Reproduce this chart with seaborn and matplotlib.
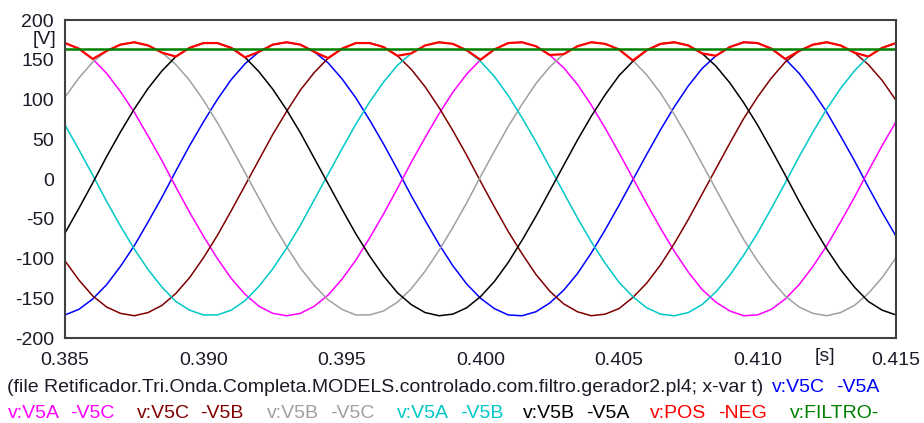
import numpy as np
import pandas as pd
import seaborn as sns
import matplotlib.pyplot as plt

# time axis: 0.385 s .. 0.415 s, one sample every 0.5 ms
t = 0.385 + np.arange(61) * 0.0005

# values [V]
v5c_v5a = [-171, -164, -151, -133, -110, -84, -54, -23, 10, 42, 72, 100, 125, 145, 160, 169,
           172, 169, 160, 146, 126, 102, 74, 44, 12, -21, -52, -82, -109, -132, -150, -163,
           -171, -172, -167, -156, -140, -119, -93, -64, -33, -1, 31, 62, 91, 117, 139, 155,
           166, 172, 171, 164, 151, 133, 110, 84, 54, 23, -10, -42, -72]
v5a_v5c = [171, 164, 151, 133, 110, 84, 54, 23, -10, -42, -72, -100, -125, -145, -160, -169,
           -172, -169, -160, -146, -126, -102, -74, -44, -12, 21, 52, 82, 109, 132, 150, 163,
           171, 172, 167, 156, 140, 119, 93, 64, 33, 1, -31, -62, -91, -117, -139, -155,
           -166, -172, -171, -164, -151, -133, -110, -84, -54, -23, 10, 42, 72]
v5c_v5b = [-103, -127, -147, -161, -169, -172, -168, -159, -144, -124, -99, -71, -40, -8, 24, 56,
           85, 112, 134, 152, 164, 171, 171, 166, 155, 138, 116, 90, 61, 30, -3, -35,
           -66, -94, -120, -141, -157, -167, -172, -170, -163, -149, -131, -108, -81, -51, -19, 13,
           45, 76, 103, 127, 147, 161, 169, 172, 168, 159, 144, 124, 99]
v5b_v5c = [103, 127, 147, 161, 169, 172, 168, 159, 144, 124, 99, 71, 40, 8, -24, -56,
           -85, -112, -134, -152, -164, -171, -171, -166, -155, -138, -116, -90, -61, -30, 3, 35,
           66, 94, 120, 141, 157, 167, 172, 170, 163, 149, 131, 108, 81, 51, 19, -13,
           -45, -76, -103, -127, -147, -161, -169, -172, -168, -159, -144, -124, -99]
v5a_v5b = [68, 37, 5, -28, -59, -88, -114, -136, -154, -165, -171, -171, -165, -153, -135, -113,
           -87, -58, -26, 6, 38, 69, 97, 122, 143, 158, 168, 172, 170, 162, 148, 129,
           105, 77, 47, 15, -17, -49, -79, -106, -130, -148, -162, -170, -172, -168, -158, -142,
           -121, -96, -68, -37, -5, 28, 59, 88, 114, 136, 154, 165, 171]
v5b_v5a = [-68, -37, -5, 28, 59, 88, 114, 136, 154, 165, 171, 171, 165, 153, 135, 113,
           87, 58, 26, -6, -38, -69, -97, -122, -143, -158, -168, -172, -170, -162, -148, -129,
           -105, -77, -47, -15, 17, 49, 79, 106, 130, 148, 162, 170, 172, 168, 158, 142,
           121, 96, 68, 37, 5, -28, -59, -88, -114, -136, -154, -165, -171]
pos_neg = [171, 164, 151, 161, 169, 172, 168, 159, 154, 165, 171, 171, 165, 153, 160, 169,
           172, 169, 160, 152, 164, 171, 171, 166, 155, 158, 168, 172, 170, 162, 150, 163,
           171, 172, 167, 156, 157, 167, 172, 170, 163, 149, 162, 170, 172, 168, 158, 155,
           166, 172, 171, 164, 151, 161, 169, 172, 168, 159, 154, 165, 171]
filtro_t = [0.385, 0.415]
filtro = [164, 164]

xticks = [0.385, 0.390, 0.395, 0.400, 0.405, 0.410, 0.415]
yticks = [-200, -150, -100, -50, 0, 50, 100, 150, 200]

series = [
    (v5c_v5a, "#0000ff", ("v:V5C", "-V5A")),
    (v5a_v5c, "#ff00ff", ("v:V5A", "-V5C")),
    (v5c_v5b, "#800000", ("v:V5C", "-V5B")),
    (v5b_v5c, "#a0a0a0", ("v:V5B", "-V5C")),
    (v5a_v5b, "#00c8c8", ("v:V5A", "-V5B")),
    (v5b_v5a, "#000000", ("v:V5B", "-V5A")),
]

sns.set_style("white")
plt.rcParams['font.family'] = ['Liberation Sans', 'DejaVu Sans']
txt = "#1c1c28"
fs = 14

fig = plt.figure(figsize=(9.24, 4.23), dpi=100)
ax = fig.add_axes([65 / 924, 1 - 338 / 423, (896 - 65) / 924, (338 - 20) / 423])

for vals, col, _ in series:
    sns.lineplot(x=t, y=vals, color=col, lw=1.1, ax=ax)
sns.lineplot(x=t, y=pos_neg, color="#ff0000", lw=1.6, ax=ax)
sns.lineplot(x=filtro_t, y=filtro, color="#008000", lw=1.8, ax=ax)

ax.set_xlim(0.385, 0.415)
ax.set_ylim(-200, 200)
ax.set_xticks(xticks)
ax.set_xticklabels([f"{x:.3f}" for x in xticks])
ax.set_yticks(yticks)
ax.set_yticklabels([str(y) for y in yticks])
ax.set_xlabel("")
ax.set_ylabel("")
ax.tick_params(axis="both", direction="out", length=6, width=1.2, color="#404040",
               labelsize=fs, labelcolor=txt)
ax.tick_params(axis="y", pad=2)
ax.tick_params(axis="x", pad=4)
for sp in ax.spines.values():
    sp.set_color("#404040")
    sp.set_linewidth(1.5)

fig.text(45 / 924, 1 - 40 / 423, "[V]", fontsize=fs, color=txt, ha="center", va="center")
fig.text(825 / 924, 1 - 356 / 423, "[s]", fontsize=fs, color=txt, ha="center", va="center")

# legend lines under the chart
y1 = 1 - 387 / 423
y2 = 1 - 413 / 423
fig.text(7 / 924, y1, "(file Retificador.Tri.Onda.Completa.MODELS.controlado.com.filtro.gerador2.pl4; x-var t)",
         fontsize=fs, color=txt, va="center")
fig.text(772 / 924, y1, series[0][2][0], fontsize=fs, color=series[0][1], va="center")
fig.text(836 / 924, y1, series[0][2][1], fontsize=fs, color=series[0][1], va="center")

pos2 = [(8, 70), (137, 200), (267, 330), (397, 460), (523, 586)]
for (xa, xb), (_, col, (la, lb)) in zip(pos2, series[1:]):
    fig.text(xa / 924, y2, la, fontsize=fs, color=col, va="center")
    fig.text(xb / 924, y2, lb, fontsize=fs, color=col, va="center")
fig.text(650 / 924, y2, "v:POS", fontsize=fs, color="#ff0000", va="center")
fig.text(718 / 924, y2, "-NEG", fontsize=fs, color="#ff0000", va="center")
fig.text(790 / 924, y2, "v:FILTRO-", fontsize=fs, color="#008000", va="center")

fig.savefig("out.png", dpi=100)
